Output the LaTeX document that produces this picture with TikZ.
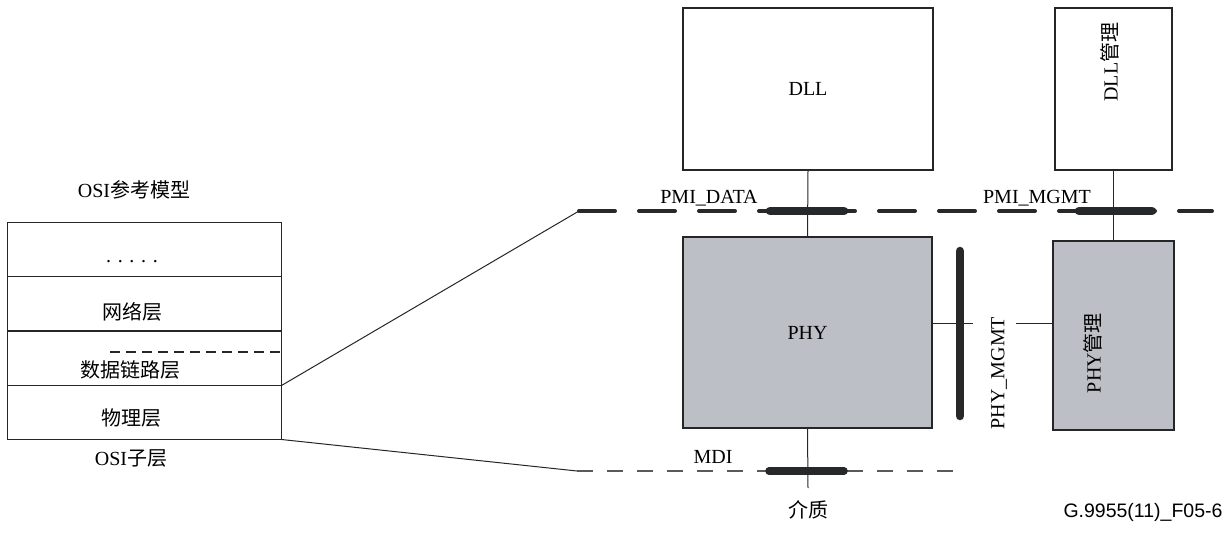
\documentclass[tikz,border=0pt]{standalone}
\usepackage{fontspec}
\setmainfont{Liberation Serif}
\newfontfamily\cjk{Noto Sans CJK SC}
\newfontfamily\arialf{Liberation Sans}
\definecolor{phygray}{HTML}{BCBFC6}
\definecolor{darkline}{HTML}{26282A}
\definecolor{mdigray}{HTML}{5A5A5A}
\begin{document}
\begin{tikzpicture}[x=1pt,y=-1pt,
  box/.style={draw=black!85, line width=1.3pt, inner sep=0pt},
  gbox/.style={box, fill=phygray},
  cell/.style={draw=black!85, line width=1pt, inner sep=0pt, minimum width=274pt, minimum height=54pt},
  lbl/.style={font=\fontsize{20}{22}\selectfont, inner sep=0pt},
  bus/.style={line width=4pt, line cap=round, dash pattern=on 36pt off 24pt, draw=darkline},
  tap/.style={line width=8.5pt, line cap=round, draw=darkline},
  link/.style={line width=1pt, draw=black!85},
  mdibus/.style={line width=2pt, dash pattern=on 16pt off 14pt, draw=mdigray}]
\useasboundingbox (0,0) rectangle (1232,533);

% left OSI stack
\node[cell] (c1) at (144,249) {};
\node[cell] (c2) at (144,303.5) {};
\node[cell] (c3) at (144,358) {};
\node[cell] (c4) at (144,412) {};
\node[lbl] (osit) at (134,190) {OSI{\cjk 参考模型}};
\node[lbl] (dots) at (132,262) {. . . . .};
\node[lbl] (net) at (132,312) {\cjk 网络层};
\node[lbl] (dl) at (130,370) {\cjk 数据链路层};
\node[lbl] (ph) at (131,418) {\cjk 物理层};
\node[lbl] (osis) at (131,458) {OSI{\cjk 子层}};
\coordinate (subA) at (110,352);
\draw[line width=1.6pt, dash pattern=on 10pt off 6pt, draw=darkline] (subA) -- (c3.east |- subA);

% right blocks
\node[box, minimum width=250pt, minimum height=162pt] (dll) at (808,89) {};
\node[lbl] at (dll) {DLL};
\node[box, minimum width=117pt, minimum height=162pt] (dllm) at (1113.5,89) {};
\node[lbl, rotate=90] at (1110,62) {DLL{\cjk 管理}};
\node[gbox, minimum width=249pt, minimum height=191pt] (phy) at (807.5,332.5) {};
\node[lbl] at (phy) {PHY};
\node[gbox, minimum width=121pt, minimum height=189pt] (phym) at (1113.5,335.5) {};
\node[lbl, rotate=90] at (1093,353) {PHY{\cjk 管理}};

% PMI bus
\coordinate (pmiL) at (579,211);
\coordinate (pmiR) at (1212,211);
\draw[bus] (pmiL) -- (pmiR);
\draw[link] (dll.south) -- (phy.north);
\draw[link] (dllm.south) -- (phym.north);
\coordinate (tdA) at (770,211); \coordinate (tdB) at (844,211);
\draw[tap] (tdA) -- (tdB);
\coordinate (tmA) at (1079,211); \coordinate (tmB) at (1152,211);
\draw[tap] (tmA) -- (tmB);
\node[lbl] at (709,198) {PMI\_DATA};
\node[lbl] at (1037,198) {PMI\_MGMT};

% PHY_MGMT
\coordinate (hm) at (0,323);
\coordinate (hmA) at (973,323);
\coordinate (hmB) at (1016,323);
\draw[link] (phy.east |- hm) -- (hmA);
\draw[link] (hmB) -- (phym.west |- hm);
\coordinate (tpA) at (960,251); \coordinate (tpB) at (960,416);
\draw[tap] (tpA) -- (tpB);
\node[lbl, rotate=90] at (999,373) {PHY\_MGMT};

% MDI
\coordinate (mdiL) at (577,471);
\coordinate (mdiR) at (955,471);
\draw[mdibus] (mdiL) -- (mdiR);
\coordinate (med) at (808,488);
\draw[link] (phy.south) -- (med);
\coordinate (tqA) at (769,471); \coordinate (tqB) at (844,471);
\draw[tap, line width=7.5pt] (tqA) -- (tqB);
\node[lbl] at (713,457) {MDI};
\node[lbl] (medium) at (808,510) {\cjk 介质};

% slanted lines
\draw[link] (c3.south east) -- (pmiL);
\draw[link] (c4.south east) -- (mdiL);

\node[font=\arialf\fontsize{19.5}{21}\selectfont, inner sep=0pt] at (1143,512) {G.9955(11)\_F05-6};
\end{tikzpicture}
\end{document}
